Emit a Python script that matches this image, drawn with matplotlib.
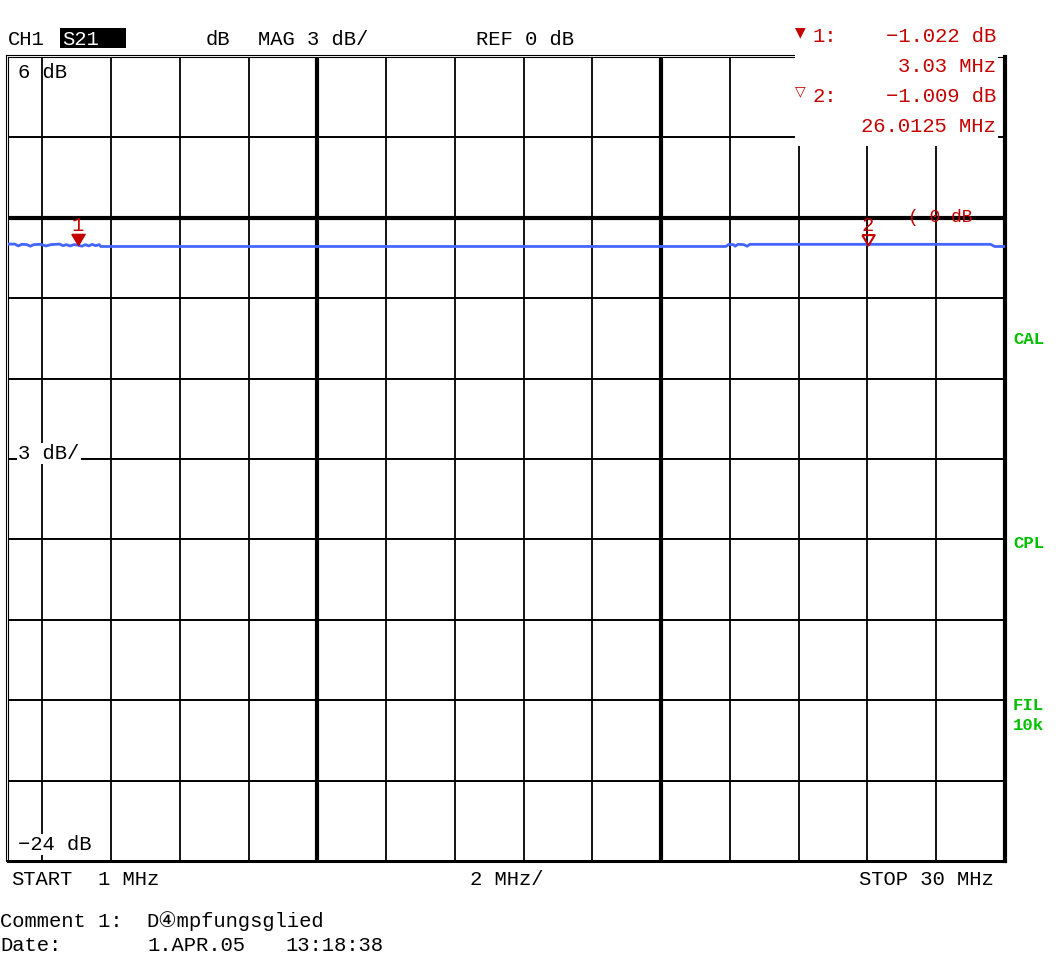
#!/usr/bin/env python
"""Network analyzer screen: S21 magnitude of an attenuator, 1 to 30 MHz."""

import matplotlib.pyplot as plt
from matplotlib.lines import Line2D
from matplotlib.patches import Rectangle

# trace (MHz, dB)
freq_mhz = [1.00, 1.20, 1.30, 1.40, 1.55, 1.65, 1.75, 1.95, 2.10, 2.25,
            2.40, 2.50, 2.60, 2.70, 2.80, 2.92, 3.03, 3.15, 3.25, 3.35,
            3.45, 3.55, 3.65, 3.70, 21.88, 21.97, 22.10, 22.15, 22.23,
            22.40, 22.50, 22.58, 29.58, 29.70, 30.00]
s21_db = [-0.98, -0.98, -1.05, -0.99, -1.00, -1.06, -1.00, -0.99, -1.05, -1.00,
          -0.99, -0.98, -1.04, -1.00, -1.05, -1.00, -1.02, -1.06, -1.00, -1.05,
          -0.99, -1.04, -1.00, -1.07, -1.07, -0.99, -1.00, -1.06, -0.99,
          -1.00, -1.06, -0.99, -0.99, -1.07, -1.07]

marker_freq = [3.03, 26.0125]
marker_db = [-1.022, -1.009]
marker_names = ["1", "2"]

start_mhz, stop_mhz = 1, 30
ref_db, top_db, bottom_db = 0, 6, -24
grid_freqs = [2, 4, 6, 8, 10, 12, 14, 16, 18, 20, 22, 24, 26, 28]
grid_levels = [3, 0, -3, -6, -9, -12, -15, -18, -21]
thick_freqs = [10, 20]

W, H = 1058, 956
RED = "#c40000"
GREEN = "#00c000"
BLUE = "#4466ff"
MONO = ["Liberation Mono", "DejaVu Sans Mono", "DejaVu Sans"]
FS = 14.8


def px(x, y):
    return x / W, 1 - y / H


def label(x, y, s, ha="left", color="black", size=FS, **kw):
    fig.text(*px(x, y), s, ha=ha, va="baseline", color=color,
             fontsize=size, family=MONO, **kw)


fig = plt.figure(figsize=(W / 100, H / 100), dpi=100)
fig.patch.set_facecolor("white")
ax = fig.add_axes([8 / W, 1 - 861 / H, 997 / W, 804 / H])
ax.set_xlim(start_mhz, stop_mhz)
ax.set_ylim(bottom_db, top_db)
ax.set_xticks([])
ax.set_yticks([])

for f in grid_freqs:
    ax.axvline(f, color="black", lw=3.0 if f in thick_freqs else 1.3, zorder=1)
for lv in grid_levels:
    ax.axhline(lv, color="black", lw=3.0 if lv == ref_db else 1.4, zorder=1)

ax.spines["left"].set_linewidth(0.8)
ax.spines["top"].set_linewidth(0.8)
ax.spines["right"].set_linewidth(3.0)
ax.spines["bottom"].set_linewidth(2.2)

ax.plot(freq_mhz, s21_db, color=BLUE, lw=2.0, zorder=3)

tri = [(-0.6, 1), (0.6, 1), (0, 0), (-0.6, 1)]
ax.plot(marker_freq[0], marker_db[0], linestyle="none", marker=tri,
        markersize=16, color=RED, zorder=4)
ax.plot(marker_freq[1], marker_db[1], linestyle="none", marker=tri,
        markersize=15, markerfacecolor="none", markeredgecolor=RED,
        markeredgewidth=1.5, zorder=4)
for f, v, name in zip(marker_freq, marker_db, marker_names):
    ax.annotate(name, (f, v), xytext=(0, 10), textcoords="offset points",
                ha="center", va="baseline", color=RED, fontsize=FS, family=MONO)

# double frame lines on the left and top
fig.add_artist(Line2D([6 / W, 6 / W], [1 - 55 / H, 1 - 861 / H], color="black", lw=0.8))
fig.add_artist(Line2D([6 / W, 795 / W], [1 - 55 / H, 1 - 55 / H], color="black", lw=0.8))

# marker readout box
fig.add_artist(Rectangle(px(795, 146), 203 / W, 146 / H, transform=fig.transFigure,
                         facecolor="white", edgecolor="none", zorder=2))

# header
label(8, 45, "CH1")
fig.add_artist(Rectangle(px(60, 48), 66 / W, 20 / H, transform=fig.transFigure,
                         facecolor="black", edgecolor="none", zorder=2))
label(62, 45, "S21", color="white")
label(206, 45, "dB")
label(258, 45, "MAG 3 dB/")
label(476, 45, "REF 0 dB")

fig.text(*px(800, 32), "\u25bc", ha="center", va="center", color=RED,
         fontsize=10, family=["DejaVu Sans"])
fig.text(*px(800, 91), "\u25bd", ha="center", va="center", color=RED,
         fontsize=10, family=["DejaVu Sans"])
label(812, 42, "1:", color=RED)
label(812, 102, "2:", color=RED)
label(996, 42, "\u22121.022 dB", ha="right", color=RED)
label(996, 72, "3.03 MHz", ha="right", color=RED)
label(996, 102, "\u22121.009 dB", ha="right", color=RED)
label(996, 132, "26.0125 MHz", ha="right", color=RED)

# scale labels inside the grid
box = dict(facecolor="white", edgecolor="none", pad=1)
label(18, 78, "6 dB")
label(18, 459, "3 dB/", bbox=box)
label(18, 850, "\u221224 dB", bbox=box)
label(908, 222, "( 0 dB", color=RED, size=13)

# status labels on the right
for y, s in [(344, "CAL"), (548, "CPL"), (710, "FIL"), (730, "10k")]:
    label(1013, y, s, color=GREEN, size=12.5, weight="bold")

# footer
label(11, 885, "START")
label(98, 885, "1 MHz")
label(470, 885, "2 MHz/")
label(859, 885, "STOP 30 MHz")
label(0, 927, "Comment 1:")
label(146, 927, "D\u2463mpfungsglied")
label(0, 951, "Date:")
label(147, 951, "1.APR.05")
label(285, 951, "13:18:38")

fig.savefig("out.png", dpi=100, facecolor="white")
